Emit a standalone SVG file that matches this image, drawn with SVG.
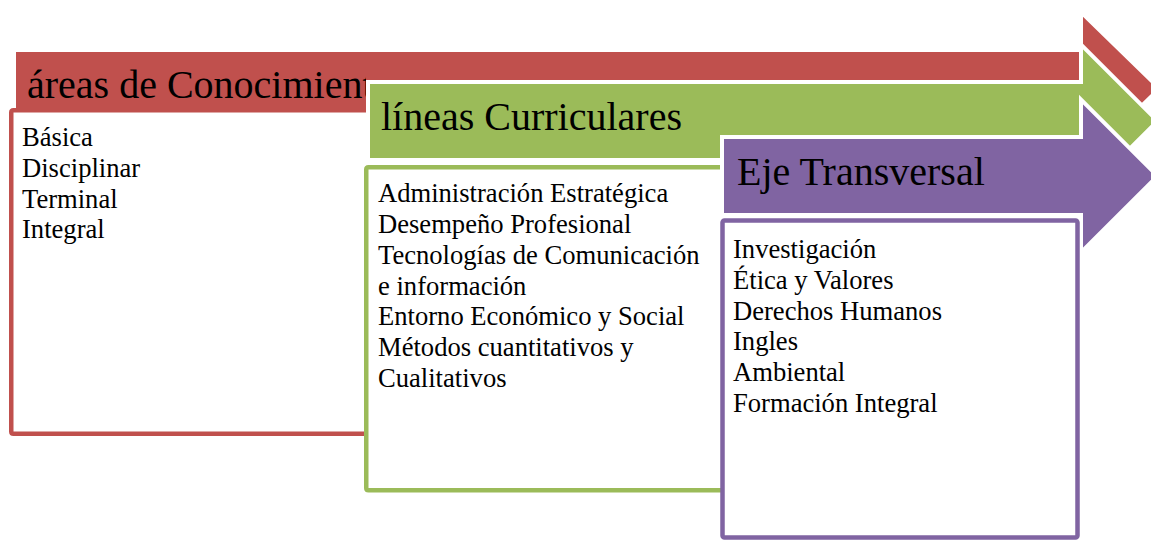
<svg xmlns="http://www.w3.org/2000/svg" width="1151" height="540" viewBox="0 0 1151 540">
<style>
.arrow{stroke:#FFFFFF;stroke-width:4;stroke-linejoin:miter}
.red{fill:#C0504D}
.green{fill:#9BBB59}
.purple{fill:#8064A2}
.box{fill:#FFFFFF;stroke-width:4.5;stroke-linejoin:round}
.hd{font-family:"Liberation Serif","Times New Roman",serif;font-size:40px;fill:#000000}
.tx{font-family:"Liberation Serif","Times New Roman",serif;font-size:26.6px;fill:#000000}
</style>
<defs>
<clipPath id="clipRed"><rect x="0" y="0" width="366" height="160"/></clipPath>
</defs>
<rect width="1151" height="540" fill="#FFFFFF"/>
<g id="areas">
<polygon class="arrow red" points="14,50 1081,50 1081,12 1159.5,88.5 1081,165 1081,127 14,127"/>
<text class="hd" x="27" y="98" clip-path="url(#clipRed)">áreas de Conocimiento</text>
<path class="box" d="M500,110.25 H13.5 Q11.25,110.25 11.25,112.5 V431.5 Q11.25,433.75 13.5,433.75 H500" stroke="#C0504D"/>
<text class="tx" x="22" y="146">Básica</text>
<text class="tx" x="22" y="177">Disciplinar</text>
<text class="tx" x="22" y="207.5">Terminal</text>
<text class="tx" x="22" y="238">Integral</text>
</g>
<g id="lineas">
<polygon class="arrow green" points="368,82 1081,82 1081,44.5 1157.5,121 1081,197.5 1081,160 368,160"/>
<text class="hd" x="381" y="130">líneas Curriculares</text>
<path class="box" d="M850,167.25 H368.5 Q366.25,167.25 366.25,169.5 V488 Q366.25,490.25 368.5,490.25 H850" stroke="#9BBB59"/>
<text class="tx" x="378" y="202">Administración Estratégica</text>
<text class="tx" x="378" y="233">Desempeño Profesional</text>
<text class="tx" x="378" y="264">Tecnologías de Comunicación</text>
<text class="tx" x="378" y="294.5">e información</text>
<text class="tx" x="378" y="325">Entorno Económico y Social</text>
<text class="tx" x="378" y="356">Métodos cuantitativos y</text>
<text class="tx" x="378" y="387">Cualitativos</text>
</g>
<g id="eje">
<polygon class="arrow purple" points="722,137 1081,137 1081,99.5 1157.5,176 1081,252.5 1081,215 722,215"/>
<text class="hd" x="737" y="185">Eje Transversal</text>
<rect class="box" x="722.5" y="220.5" width="355" height="317" rx="2" stroke="#8064A2" stroke-width="5"/>
<text class="tx" x="733" y="258">Investigación</text>
<text class="tx" x="733" y="289">Ética y Valores</text>
<text class="tx" x="733" y="320">Derechos Humanos</text>
<text class="tx" x="733" y="350">Ingles</text>
<text class="tx" x="733" y="381">Ambiental</text>
<text class="tx" x="733" y="412">Formación Integral</text>
</g>
<g id="connectors"></g>
</svg>
